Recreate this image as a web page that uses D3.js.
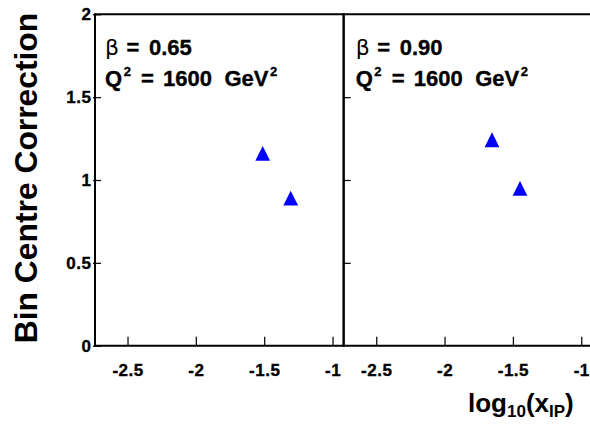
<!DOCTYPE html>
<html>
<head>
<meta charset="utf-8">
<script src="https://cdn.jsdelivr.net/npm/d3@7"></script>
<style>
  html, body { margin: 0; padding: 0; background: #fff; }
  svg { display: block; }
  text { font-family: "Liberation Sans", Arial, Helvetica, sans-serif; font-weight: bold; fill: #000; }
  .heavy { stroke: #000; stroke-width: 0.35px; }
</style>
</head>
<body>
<svg id="chart" width="590" height="427"></svg>
<script>
// Bin centre corrections at Q^2 = 1600 GeV^2 for two beta values
const panelBeta = ["0.65", "0.90"];
const panelQ2 = ["1600", "1600"];
const logXpom = [
  [-1.511, -1.306],
  [-1.653, -1.448]
];
const correction = [
  [1.161, 0.891],
  [1.243, 0.950]
];
const xTicks = [-2.5, -2, -1.5, -1];
const yTicks = [0, 0.5, 1, 1.5, 2];

const svg = d3.select("#chart");
const plotTop = 14.3, plotBottom = 345.7;
const panelLeft = [95, 343.7];
const panelWidth = 248.6;

const y = d3.scaleLinear().domain([0, 2]).range([plotBottom, plotTop]);

// plain hyphen for negative tick values
const tickText = d => String(d);

// upward triangle marker, as tall as it is wide
const triangleUp = {
  draw(ctx, size) {
    const h = Math.sqrt(size) / 2;
    ctx.moveTo(0, -h);
    ctx.lineTo(h, h);
    ctx.lineTo(-h, h);
    ctx.closePath();
  }
};
const marker = d3.symbol().type(triangleUp).size(14.8 * 14.8);

function styleTickText(sel) {
  sel.attr("fill", "#000")
    .attr("class", "heavy")
    .style("font-size", "17px")
    .style("letter-spacing", "0.5px")
    .style("font-family", "'Liberation Sans', Arial, sans-serif")
    .style("font-weight", "bold");
}

panelLeft.forEach((x0, p) => {
  const x = d3.scaleLinear().domain([-2.738, -0.919]).range([x0, x0 + panelWidth]);
  const g = svg.append("g");

  // x axis with ticks pointing into the frame
  const xAxis = g.append("g")
    .attr("transform", `translate(0,${plotBottom})`)
    .call(d3.axisBottom(x).tickValues(xTicks).tickSizeInner(-9).tickSizeOuter(0)
      .tickPadding(18.5).tickFormat(tickText));
  xAxis.select(".domain").remove();
  xAxis.selectAll(".tick line").attr("stroke", "#111").attr("stroke-width", 1.3);
  xAxis.selectAll(".tick text").call(styleTickText);

  // y axis: labels only on the first panel
  const yAxis = g.append("g")
    .attr("transform", `translate(${x0},0)`)
    .call(d3.axisLeft(y).tickValues(p === 0 ? yTicks : [0.5, 1, 1.5])
      .tickSizeInner(p === 0 ? -6 : -7).tickSizeOuter(0).tickPadding(3.5)
      .tickFormat(p === 0 ? tickText : () => ""));
  yAxis.select(".domain").remove();
  yAxis.selectAll(".tick line").attr("stroke", "#111").attr("stroke-width", 1.3);
  if (p === 0) yAxis.selectAll(".tick line").attr("x1", -2);
  yAxis.selectAll(".tick text").call(styleTickText);

  // frame
  const frame = g.append("g").attr("stroke", "#000").attr("stroke-width", 2).attr("fill", "none");
  frame.append("line").attr("x1", x0).attr("x2", x0 + panelWidth).attr("y1", plotTop).attr("y2", plotTop);
  frame.append("line").attr("x1", x0).attr("x2", x0 + panelWidth).attr("y1", plotBottom).attr("y2", plotBottom);
  frame.append("line").attr("x1", x0).attr("x2", x0).attr("y1", plotTop - 1).attr("y2", plotBottom + 1);
  frame.append("line").attr("x1", x0 + panelWidth).attr("x2", x0 + panelWidth).attr("y1", plotTop - 1).attr("y2", plotBottom + 1);

  // data points
  g.append("g").selectAll("path")
    .data(d3.zip(logXpom[p], correction[p]))
    .join("path")
    .attr("d", marker)
    .attr("fill", "#0000ff")
    .attr("transform", d => `translate(${x(d[0])},${y(d[1])})`);

  // panel annotation, with wide word gaps
  const tx = x0 + (p === 0 ? 10 : 12);
  const t1 = g.append("text").attr("class", "heavy").attr("y", 54.5).style("font-size", "22px");
  t1.append("tspan").attr("x", tx).text("β")
    .style("font-family", "'DejaVu Sans', sans-serif").style("font-weight", "normal")
    .style("stroke-width", "0px").style("font-size", "22px");
  t1.append("tspan").attr("x", tx + 21.5).text("=");
  t1.append("tspan").attr("x", tx + 44).text(panelBeta[p]);

  const t2 = g.append("text").attr("class", "heavy").attr("y", 85.5).style("font-size", "22px");
  t2.append("tspan").attr("x", tx).text("Q");
  t2.append("tspan").attr("dx", 1.5).attr("dy", -9.5).style("font-size", "13px").text("2");
  t2.append("tspan").attr("x", tx + 36).attr("dy", 9.5).text("=");
  t2.append("tspan").attr("x", tx + 58).text(panelQ2[p]);
  t2.append("tspan").attr("x", tx + 119.5).text("GeV");
  t2.append("tspan").attr("dx", 1.5).attr("dy", -9.5).style("font-size", "13px").text("2");
});

// axis titles
svg.append("text")
  .attr("transform", "translate(37,178) rotate(-90)")
  .attr("text-anchor", "middle")
  .style("font-size", "31.8px")
  .text("Bin Centre Correction");

const xt = svg.append("text").attr("x", 468).attr("y", 411.7).style("font-size", "26px");
xt.append("tspan").text("log");
xt.append("tspan").text("10").attr("dy", 5).style("font-size", "17px");
xt.append("tspan").text("(x").attr("dy", -5);
xt.append("tspan").text("IP").attr("dy", 5).style("font-size", "17px");
xt.append("tspan").text(")").attr("dy", -5);
</script>
</body>
</html>
